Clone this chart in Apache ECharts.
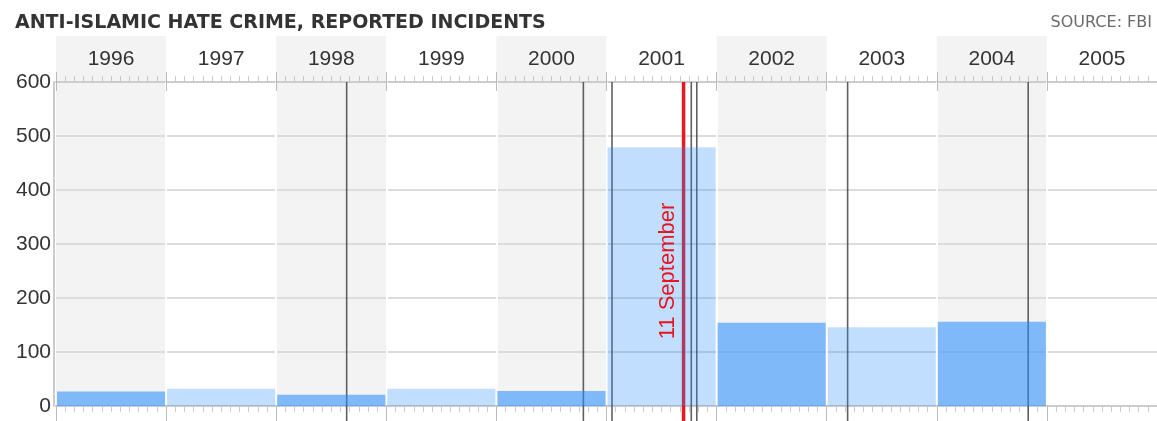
<!DOCTYPE html>
<html>
<head>
<meta charset="utf-8">
<title>Anti-Islamic hate crime</title>
<script src="https://cdn.jsdelivr.net/npm/echarts@6.0.0/dist/echarts.min.js"></script>
<style>
  html, body { margin: 0; padding: 0; background: #fff; }
  #chart { width: 1157px; height: 421px; }
</style>
</head>
<body>
<div id="chart"></div>
<script>
// reported incidents per year (FBI)
var years = ['1996', '1997', '1998', '1999', '2000', '2001', '2002', '2003', '2004', '2005'];
var incidents = [27, 32, 21, 32, 28, 479, 154, 146, 156, null];
// dark event lines, in decimal years
var eventDates = [1998.64, 2000.79, 2001.05, 2001.77, 2001.82, 2003.19, 2004.83];
var sept11 = 2001.70;
var sept11Label = '11 September';
var yTicks = [0, 100, 200, 300, 400, 500, 600];

var yearData = years.map(function (y, i) { return [+y, incidents[i]]; });

var chart = echarts.init(document.getElementById('chart'));

var font = '"Liberation Sans", Arial, sans-serif';

function headerBand(params, api) {
  var x = api.value(0);
  var a = api.coord([x, 1]);
  var b = api.coord([x + 1, 0]);
  var i = params.dataIndex;
  return {
    type: 'group',
    children: [
      {
        type: 'rect',
        shape: { x: a[0], y: a[1], width: b[0] - a[0], height: b[1] - a[1] },
        style: { fill: i % 2 === 0 ? '#f3f3f3' : '#fff' }
      },
      {
        type: 'text',
        x: (a[0] + b[0]) / 2,
        y: (a[1] + b[1]) / 2,
        style: {
          text: years[i], fill: '#333', font: '21px ' + font,
          align: 'center', verticalAlign: 'middle'
        }
      }
    ]
  };
}

function plotBand(params, api) {
  if (params.dataIndex % 2 !== 0) return;
  var x = api.value(0);
  var a = api.coord([x, yTicks[yTicks.length - 1]]);
  var b = api.coord([x + 1, 0]);
  return {
    type: 'rect',
    shape: { x: a[0], y: a[1], width: b[0] - a[0], height: b[1] - a[1] },
    style: { fill: '#f3f3f3' }
  };
}

function bar(params, api) {
  var v = api.value(1);
  if (v == null || isNaN(v)) return;
  var x = api.value(0);
  var a = api.coord([x, v]);
  var b = api.coord([x + 1, 0]);
  var dark = params.dataIndex % 2 === 0;
  return {
    type: 'rect',
    shape: { x: a[0] + 1, y: a[1], width: b[0] - a[0] - 2, height: b[1] - a[1] },
    style: { fill: dark ? 'rgba(40,140,255,0.57)' : 'rgba(40,140,255,0.29)' }
  };
}

function eventLine(color, width, opacity) {
  return function (params, api) {
    var x = api.value(0);
    var top = api.coord([x, yTicks[yTicks.length - 1]]);
    var bottom = api.coord([x, 0]);
    return {
      type: 'line',
      shape: { x1: top[0], y1: top[1], x2: top[0], y2: bottom[1] + 15 },
      style: { stroke: color, lineWidth: width, opacity: opacity }
    };
  };
}

function sept11Text(params, api) {
  var p = api.coord([api.value(0), api.value(1)]);
  return {
    type: 'text',
    x: p[0] - 16,
    y: p[1],
    rotation: Math.PI / 2,
    style: {
      text: sept11Label, fill: '#e8141c', font: '22px ' + font,
      align: 'center', verticalAlign: 'middle'
    }
  };
}

var option = {
  animation: false,
  title: [
    {
      text: 'ANTI-ISLAMIC HATE CRIME, REPORTED INCIDENTS',
      left: 10, top: 9,
      textStyle: { fontFamily: 'DejaVu Sans', fontWeight: 'bold', fontSize: 19, color: '#333' }
    },
    {
      text: 'SOURCE: FBI',
      right: 0, top: 10,
      textStyle: { fontFamily: 'DejaVu Sans', fontWeight: 'normal', fontSize: 16, color: '#6a6a6a' }
    }
  ],
  grid: [
    { left: 56, width: 1102, top: 36, height: 46 },
    { left: 56, width: 1102, top: 82, bottom: 15 }
  ],
  xAxis: [
    {
      gridIndex: 0, type: 'value', min: 1996, max: 2006, interval: 1,
      position: 'bottom', z: 1,
      axisLine: { show: true, lineStyle: { color: '#ccc', width: 2 } },
      axisTick: { show: true, inside: true, length: 10, lineStyle: { color: '#bbb' } },
      minorTick: { show: true, splitNumber: 12, length: 6, lineStyle: { color: '#c8c8c8' } },
      axisLabel: { show: false },
      splitLine: { show: false }
    },
    {
      gridIndex: 1, type: 'value', min: 1996, max: 2006, interval: 1,
      position: 'bottom', z: 2,
      axisLine: { show: true, lineStyle: { color: '#ccc', width: 2 } },
      axisTick: { show: true, inside: false, length: 15, lineStyle: { color: '#bbb' } },
      minorTick: { show: true, splitNumber: 12, length: 6, lineStyle: { color: '#c8c8c8' } },
      axisLabel: { show: false },
      splitLine: { show: true, showMinLine: false, showMaxLine: false, lineStyle: { color: '#fff', width: 2 } }
    },
    {
      gridIndex: 1, type: 'value', min: 1996, max: 2006, interval: 1,
      position: 'top', z: 2,
      axisLine: { show: false },
      axisTick: { show: true, inside: true, length: 9, lineStyle: { color: '#bbb' } },
      axisLabel: { show: false },
      splitLine: { show: false }
    }
  ],
  yAxis: [
    {
      gridIndex: 0, type: 'value', min: 0, max: 1, show: false
    },
    {
      gridIndex: 1, type: 'value', min: 0, max: 600, interval: 100, z: 1, offset: 2,
      axisLine: { show: true, lineStyle: { color: '#ccc', width: 2 } },
      axisTick: { show: false },
      axisLabel: { color: '#333', fontSize: 21, fontFamily: font, margin: 3 },
      splitLine: { show: true, lineStyle: { color: '#dcdcdc', width: 2 } }
    }
  ],
  series: [
    {
      type: 'custom', name: 'header', xAxisIndex: 0, yAxisIndex: 0, z: 0,
      renderItem: headerBand, data: yearData, encode: { x: 0 }, silent: true
    },
    {
      type: 'custom', name: 'bands', xAxisIndex: 1, yAxisIndex: 1, z: 0,
      renderItem: plotBand, data: yearData, encode: { x: 0, y: 1 }, silent: true
    },
    {
      type: 'custom', name: 'events', xAxisIndex: 1, yAxisIndex: 1, z: 3, clip: false,
      renderItem: eventLine('#444', 1.6, 0.85),
      data: eventDates.map(function (d) { return [d, 0]; }), encode: { x: 0, y: 1 }
    },
    {
      type: 'custom', name: '11 September', xAxisIndex: 1, yAxisIndex: 1, z: 3, clip: false,
      renderItem: eventLine('#e31b23', 3.5, 1),
      data: [[sept11, 0]], encode: { x: 0, y: 1 }
    },
    {
      type: 'custom', name: 'Incidents', xAxisIndex: 1, yAxisIndex: 1, z: 4,
      renderItem: bar, data: yearData, encode: { x: 0, y: 1 }
    },
    {
      type: 'custom', name: 'label', xAxisIndex: 1, yAxisIndex: 1, z: 5, clip: false,
      renderItem: sept11Text,
      data: [[sept11, 250]], encode: { x: 0, y: 1 }
    }
  ]
};

chart.setOption(option);
</script>
</body>
</html>
